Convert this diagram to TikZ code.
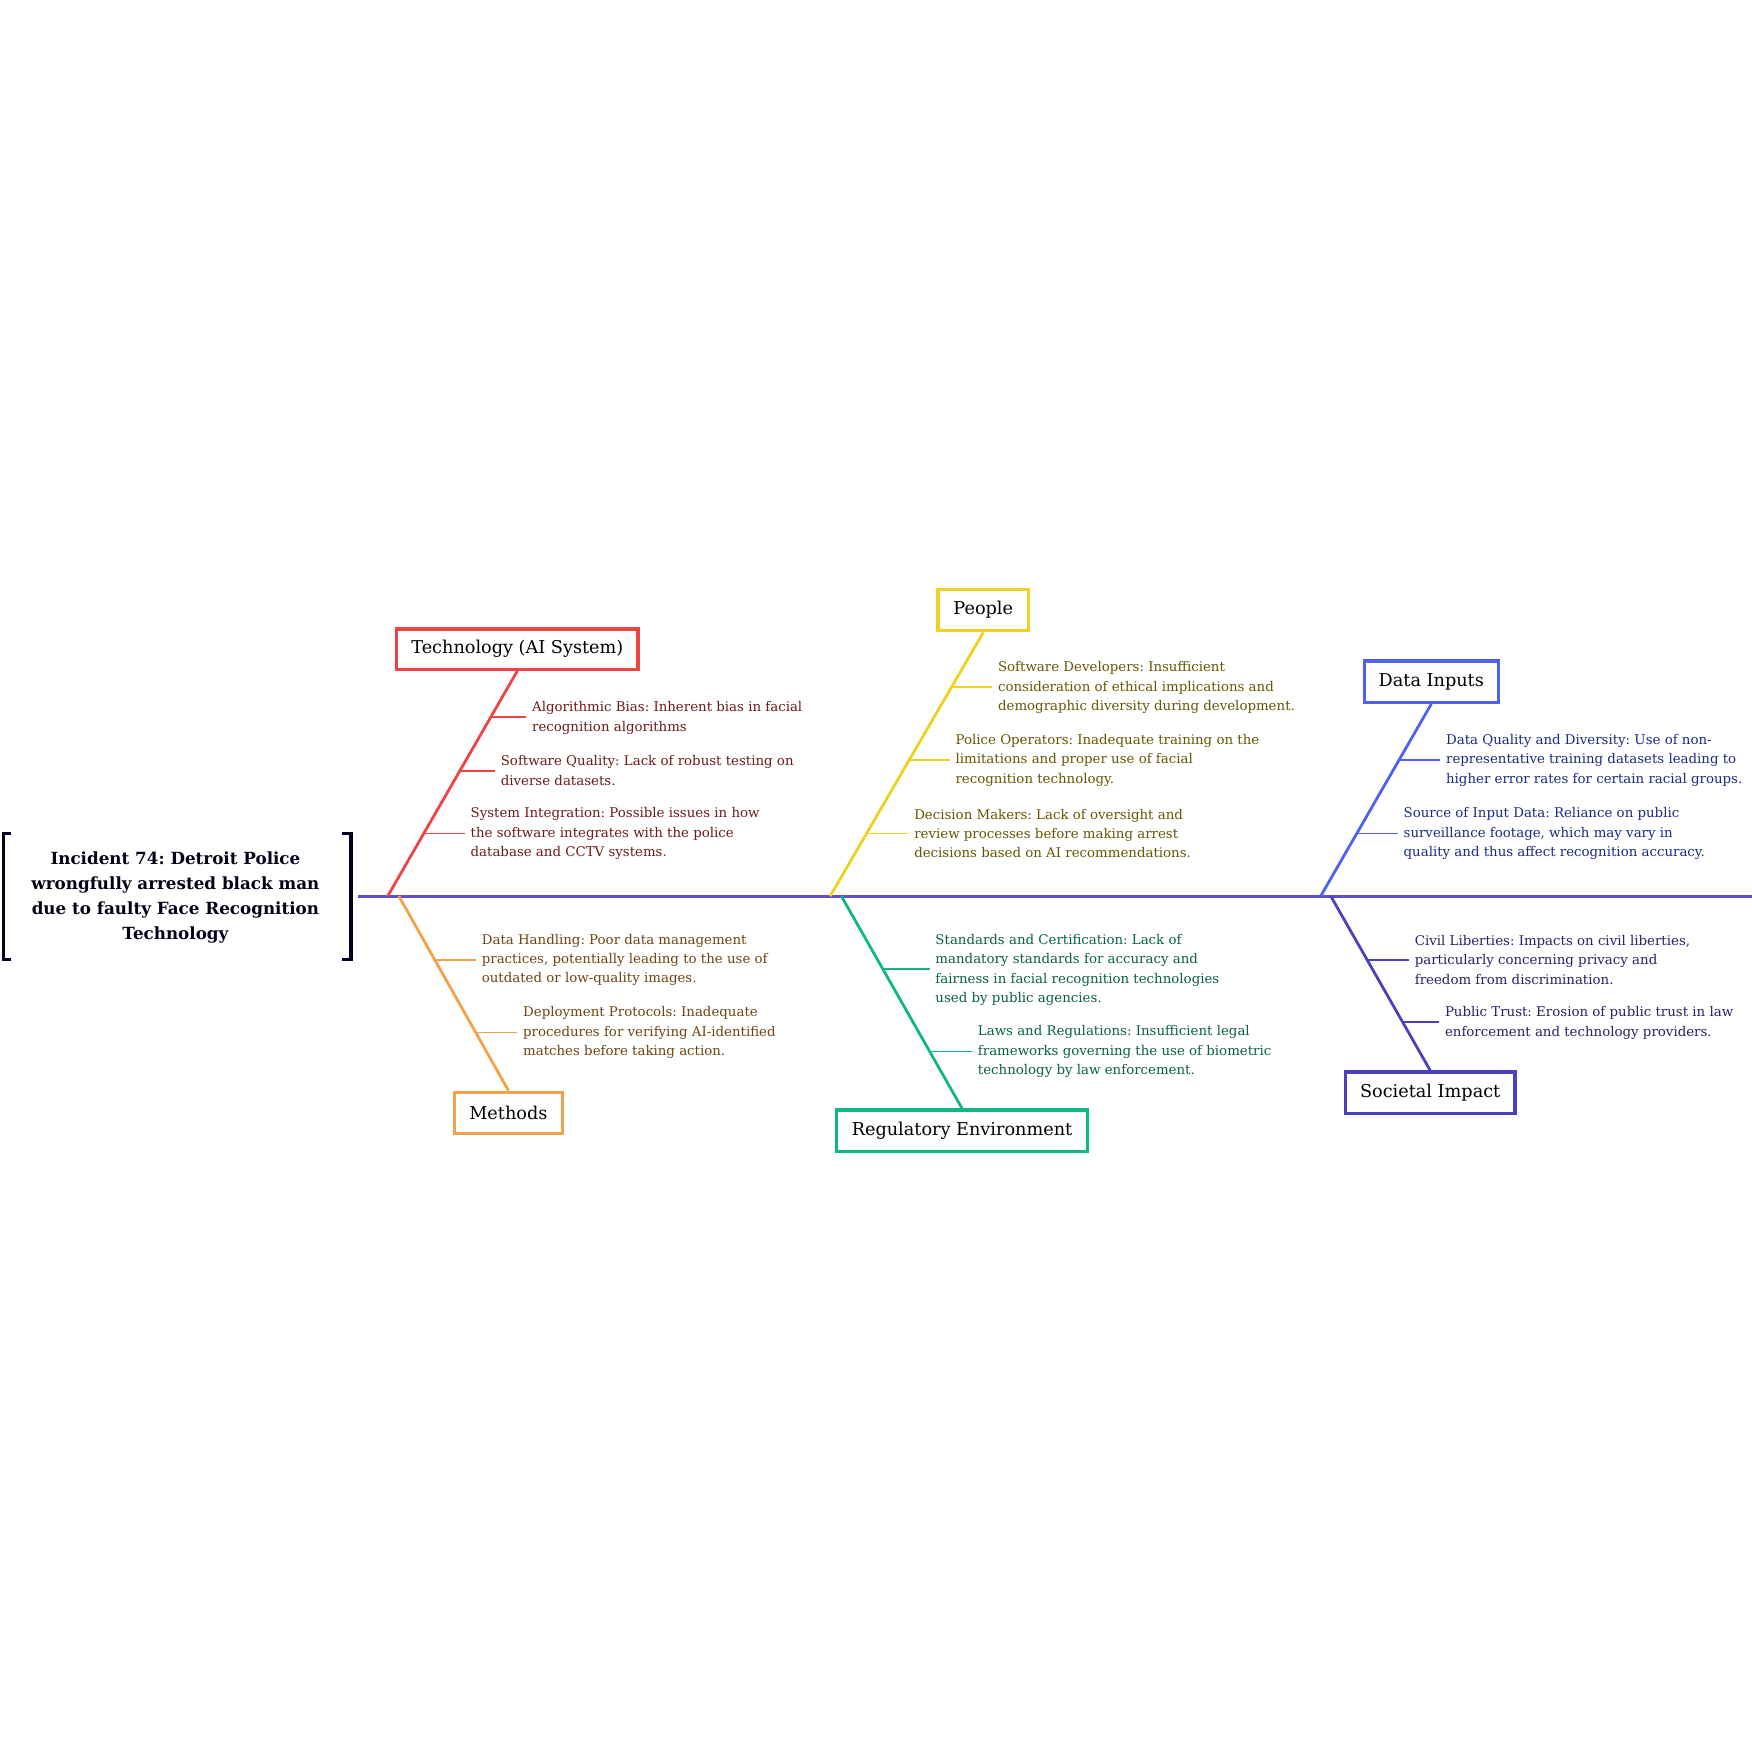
\documentclass[tikz,border=0pt]{standalone}
\usepackage{fontspec}
\setmainfont{DejaVu Serif}
\frenchspacing
\definecolor{cspine}{HTML}{5B4FD0}
\definecolor{cred}{HTML}{F04444}\definecolor{tred}{HTML}{6E1A1A}
\definecolor{corg}{HTML}{F5A04A}\definecolor{torg}{HTML}{704410}
\definecolor{cyel}{HTML}{F0D020}\definecolor{tyel}{HTML}{665600}
\definecolor{cgrn}{HTML}{10B880}\definecolor{tgrn}{HTML}{0A6048}
\definecolor{cblu}{HTML}{5060F0}\definecolor{tblu}{HTML}{1A2A80}
\definecolor{cind}{HTML}{4A40C0}\definecolor{tind}{HTML}{28206A}
\tikzset{
 cat/.style={draw=#1,line width=0.9mm,fill=white,inner sep=0pt,font=\fontsize{13.5}{16}\selectfont},
 bone/.style={draw=#1,line width=0.75mm},
 twig/.style={draw=#1,line width=0.5mm},
 cause/.style={anchor=west,align=left,inner sep=0pt,text=#1,font=\fontsize{10.2}{14.8}\selectfont},
}
\begin{document}
\begin{tikzpicture}[x=0.3mm,y=-0.3mm]
\useasboundingbox (0,0) rectangle (1568,1568);
\fill[white] (0,0) rectangle (1568,1568);
% spine and head
\coordinate (sp0) at (320,802); \coordinate (sp1) at (1568,802);
\draw[bone=cspine] (sp0) -- (sp1);
\node[align=center,font=\bfseries\fontsize{12.8}{19.2}\selectfont,text=black!90!blue] (head) at (157,803)
 {Incident 74: Detroit Police\\wrongfully arrested black man\\due to faulty Face Recognition\\Technology};
\draw[line width=0.9mm,black!85!blue] (10,746) -- (3,746) -- (3,859) -- (10,859);
\draw[line width=0.9mm,black!85!blue] (306,746) -- (314,746) -- (314,859) -- (306,859);
% Technology
\node[cat=cred,minimum width=216*0.3mm,minimum height=36*0.3mm] (tech) at (463,581) {Technology (AI System)};
\coordinate (techb) at (347,802);
\draw[bone=cred] (tech.south) -- (techb);
\node[cause=tred] (t1) at (476,642.5) {Algorithmic Bias: Inherent bias in facial\\recognition algorithms};
\node[cause=tred] (t2) at (448,689.5) {Software Quality: Lack of robust testing on\\diverse datasets.};
\node[cause=tred] (t3) at (421,746) {System Integration: Possible issues in how\\the software integrates with the police\\database and CCTV systems.};
\coordinate (t1b) at (440,642); \coordinate (t2b) at (412,690); \coordinate (t3b) at (380,746);
\draw[twig=cred] (t1b) -- ([xshift=-5*0.3mm]t1.west|-t1b);
\draw[twig=cred] (t2b) -- ([xshift=-5*0.3mm]t2.west|-t2b);
\draw[twig=cred] (t3b) -- ([xshift=-5*0.3mm]t3.west|-t3b);
% Methods
\node[cat=corg,minimum width=97*0.3mm,minimum height=37*0.3mm] (meth) at (455,996) {Methods};
\coordinate (methb) at (357,802);
\draw[bone=corg] (methb) -- (meth.north);
\node[cause=torg] (m1) at (431,859) {Data Handling: Poor data management\\practices, potentially leading to the use of\\outdated or low-quality images.};
\node[cause=torg] (m2) at (468,924) {Deployment Protocols: Inadequate\\procedures for verifying AI-identified\\matches before taking action.};
\coordinate (m1b) at (390,859); \coordinate (m2b) at (427,924);
\draw[twig=corg] (m1b) -- ([xshift=-5*0.3mm]m1.west|-m1b);
\draw[twig=corg] (m2b) -- ([xshift=-5*0.3mm]m2.west|-m2b);
% People
\node[cat=cyel,minimum width=81*0.3mm,minimum height=37*0.3mm] (peop) at (880,546) {People};
\coordinate (peopb) at (743,802);
\draw[bone=cyel] (peop.south) -- (peopb);
\node[cause=tyel] (p1) at (893,615.5) {Software Developers: Insufficient\\consideration of ethical implications and\\demographic diversity during development.};
\node[cause=tyel] (p2) at (855,680.5) {Police Operators: Inadequate training on the\\limitations and proper use of facial\\recognition technology.};
\node[cause=tyel] (p3) at (818,746) {Decision Makers: Lack of oversight and\\review processes before making arrest\\decisions based on AI recommendations.};
\coordinate (p1b) at (851,615); \coordinate (p2b) at (813,680); \coordinate (p3b) at (776,746);
\draw[twig=cyel] (p1b) -- ([xshift=-5*0.3mm]p1.west|-p1b);
\draw[twig=cyel] (p2b) -- ([xshift=-5*0.3mm]p2.west|-p2b);
\draw[twig=cyel] (p3b) -- ([xshift=-5*0.3mm]p3.west|-p3b);
% Regulatory
\node[cat=cgrn,minimum width=225*0.3mm,minimum height=37*0.3mm] (reg) at (861,1012) {Regulatory Environment};
\coordinate (regb) at (753,802);
\draw[bone=cgrn] (regb) -- (reg.north);
\node[cause=tgrn] (r1) at (837,868) {Standards and Certification: Lack of\\mandatory standards for accuracy and\\fairness in facial recognition technologies\\used by public agencies.};
\node[cause=tgrn] (r2) at (875,941) {Laws and Regulations: Insufficient legal\\frameworks governing the use of biometric\\technology by law enforcement.};
\coordinate (r1b) at (789,867); \coordinate (r2b) at (832,941);
\draw[twig=cgrn] (r1b) -- ([xshift=-5*0.3mm]r1.west|-r1b);
\draw[twig=cgrn] (r2b) -- ([xshift=-5*0.3mm]r2.west|-r2b);
% Data Inputs
\node[cat=cblu,minimum width=120*0.3mm,minimum height=37*0.3mm] (data) at (1281,610) {Data Inputs};
\coordinate (datab) at (1182,802);
\draw[bone=cblu] (data.south) -- (datab);
\node[cause=tblu] (d1) at (1294,680.5) {Data Quality and Diversity: Use of non-\\representative training datasets leading to\\higher error rates for certain racial groups.};
\node[cause=tblu] (d2) at (1256,746) {Source of Input Data: Reliance on public\\surveillance footage, which may vary in\\quality and thus affect recognition accuracy.};
\coordinate (d1b) at (1253,680); \coordinate (d2b) at (1215,746);
\draw[twig=cblu] (d1b) -- ([xshift=-5*0.3mm]d1.west|-d1b);
\draw[twig=cblu] (d2b) -- ([xshift=-5*0.3mm]d2.west|-d2b);
% Societal
\node[cat=cind,minimum width=152*0.3mm,minimum height=37*0.3mm] (soc) at (1280,978) {Societal Impact};
\coordinate (socb) at (1191,802);
\draw[bone=cind] (socb) -- (soc.north);
\node[cause=tind] (s1) at (1266,859) {Civil Liberties: Impacts on civil liberties,\\particularly concerning privacy and\\freedom from discrimination.};
\node[cause=tind] (s2) at (1293,915.5) {Public Trust: Erosion of public trust in law\\enforcement and technology providers.};
\coordinate (s1b) at (1224,859); \coordinate (s2b) at (1256,915);
\draw[twig=cind] (s1b) -- ([xshift=-5*0.3mm]s1.west|-s1b);
\draw[twig=cind] (s2b) -- ([xshift=-5*0.3mm]s2.west|-s2b);
\end{tikzpicture}
\end{document}
